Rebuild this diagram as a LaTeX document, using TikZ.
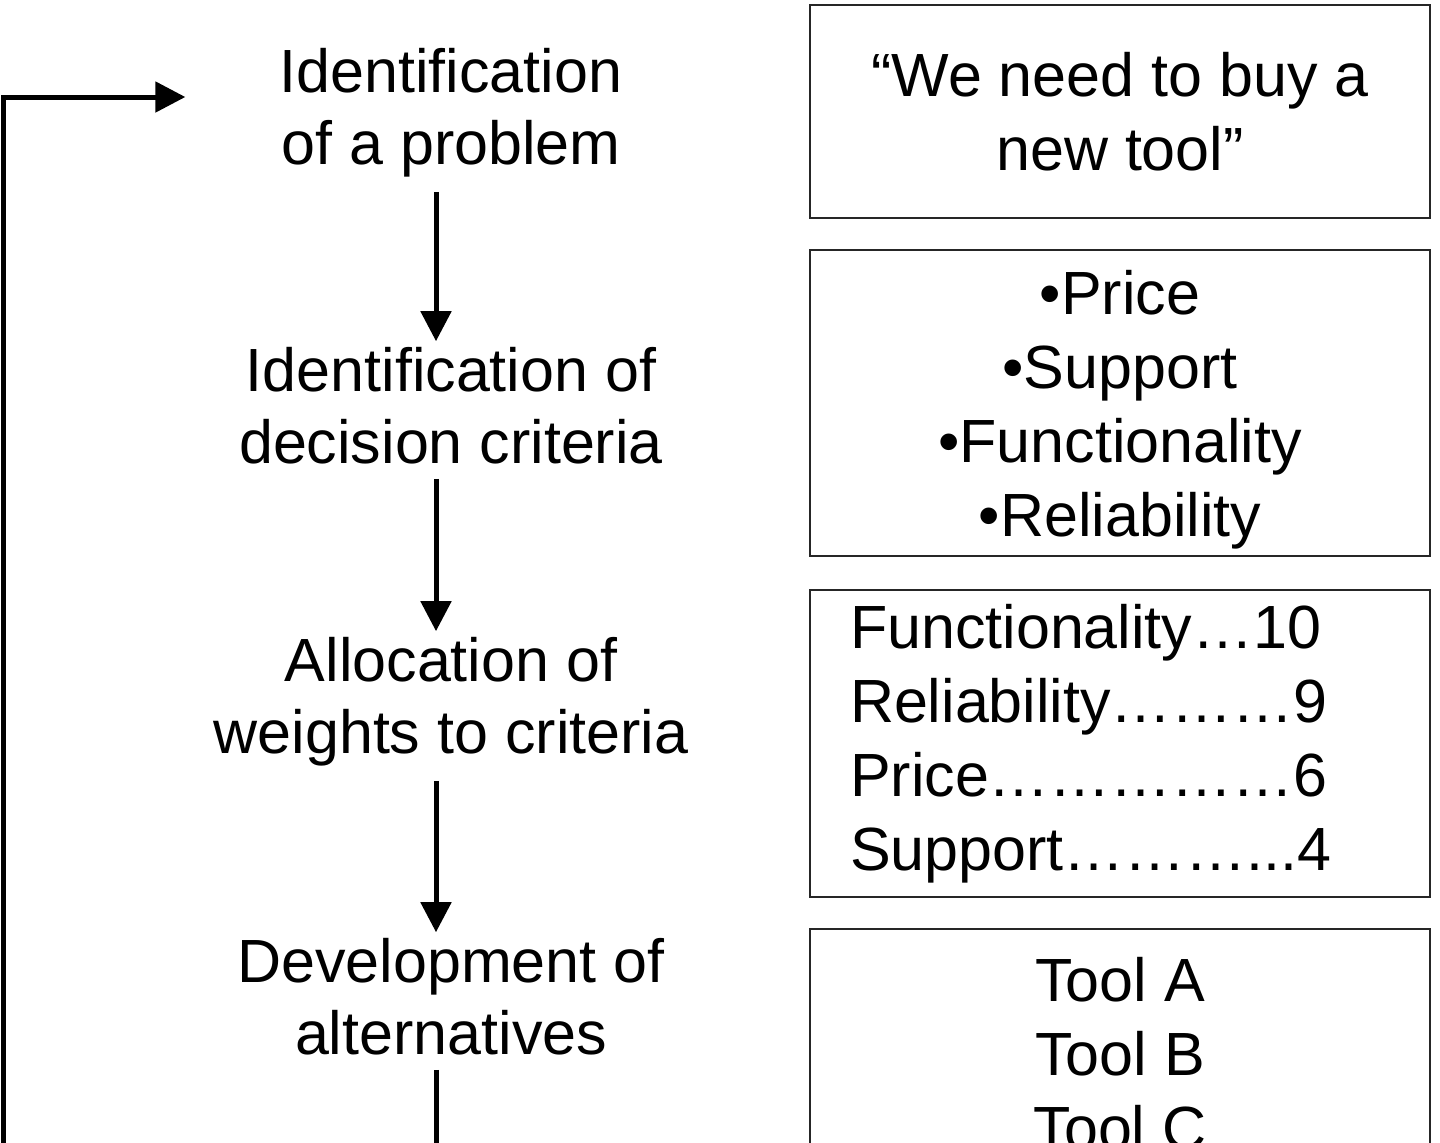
\documentclass[tikz,border=0pt]{standalone}
\usepackage{fontspec}
\setmainfont{Liberation Sans}
\usetikzlibrary{arrows.meta}

\begin{document}
\begin{tikzpicture}[
  x=0.5pt, y=-0.5pt,
  font=\fontsize{30.5}{36}\selectfont,
  stage/.style={align=center, inner xsep=3pt, inner ysep=3pt},
  panel/.style={draw=black!85, line width=1pt, minimum width=310pt, inner sep=0pt, align=center, font=\fontsize{30.5}{37}\selectfont},
  flow/.style={line width=2.5pt, -{Triangle[length=15pt,width=15pt]}}
]
\useasboundingbox (0,0) rectangle (1440,1142);
\clip (0,0) rectangle (1440,1142);

\node[stage] (prob) at (451,113) {Identification\\of a problem};
\node[stage] (crit) at (451,406) {Identification of\\decision criteria};
\node[stage] (alloc) at (451,702) {Allocation of\\weights to criteria};
\node[stage] (dev) at (451,997) {Development of\\alternatives};

\node[panel, minimum height=106.5pt] (need) at (1120,111.5) {“We need to buy a\\new tool”};
\node[panel, minimum height=153pt, text depth=0pt] (list) at (1120,403) {•Price\\•Support\\•Functionality\\•Reliability};
\node[panel, minimum height=153.5pt, text width=270pt, inner xsep=20pt, align=left] (weights) at (1120,743.5) {Functionality…10\\Reliability………9\\Price……………6\\Support………...4};
\node[panel, anchor=north, minimum height=125pt] (tools) at (1120,928) {Tool A\\Tool B\\Tool C};

\coordinate (next) at (436,1170);
\coordinate (back) at (3,1170);

\foreach \a/\b in {prob/crit, crit/alloc, alloc/dev}
  \draw[flow, shorten <=4pt] ([xshift=-7.5pt]\a.south) -- ([xshift=-7.5pt]\b.north);
\draw[line width=2.5pt, shorten <=4pt] ([xshift=-7.5pt]dev.south) -- (next);
\draw[flow, shorten >=44pt] (back) |- ([yshift=8pt]prob.west);
\end{tikzpicture}
\end{document}
